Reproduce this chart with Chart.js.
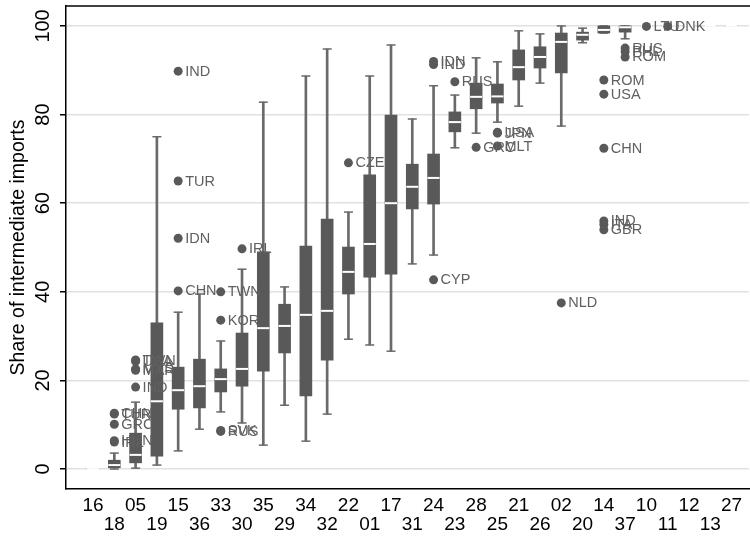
<!DOCTYPE html>
<html>
<head>
<meta charset="utf-8">
<script src="https://cdn.jsdelivr.net/npm/chart.js@4.4.1/dist/chart.umd.min.js"></script>
<style>
  html, body { margin:0; padding:0; background:#fff; }
  #wrap { width:750px; height:541px; position:relative; }
</style>
</head>
<body>
<div id="wrap"><canvas id="boxChart"></canvas></div>
<script>
// industry codes, in plotted order (sorted by median share)
const cats     = ['16','18','05','19','15','36','33','30','35','29','34','32','22','01','17','31','24','23','28','25','21','26','02','20','14','37','10','11','12','13','27'];
const whiskLo  = [0, 0, 0.2, 0.9, 4.1, 9.0, 12.9, 10.4, 5.4, 14.4, 6.3, 12.4, 29.3, 28.0, 26.6, 46.3, 48.3, 72.5, 75.8, 78.3, 81.9, 87.1, 77.4, 96.2, 98.4, 97.1, 100, 100, 100, 100, 100];
const boxQ1    = [0, 0.3, 1.4, 2.9, 13.5, 13.8, 17.4, 18.7, 22.1, 26.2, 16.5, 24.6, 39.5, 43.3, 44.0, 58.7, 59.8, 76.1, 81.3, 82.6, 87.8, 90.5, 89.4, 96.8, 98.4, 98.6, 100, 100, 100, 100, 100];
const boxMed   = [0, 0.9, 3.2, 15.3, 17.8, 18.7, 20.3, 22.6, 31.8, 32.3, 34.8, 35.7, 44.5, 50.8, 60.0, 63.7, 65.7, 78.3, 84.0, 84.1, 90.7, 93.0, 96.4, 98.0, 99.1, 99.7, 100, 100, 100, 100, 100];
const boxQ3    = [0, 2.0, 8.1, 33.0, 23.0, 24.8, 22.6, 30.7, 49.0, 37.2, 50.3, 56.4, 50.1, 66.4, 79.9, 68.8, 71.1, 80.6, 87.1, 86.9, 94.6, 95.3, 98.4, 98.6, 100, 100, 100, 100, 100, 100, 100];
const whiskHi  = [0, 3.6, 15.1, 75.0, 35.4, 39.5, 28.9, 45.1, 82.8, 41.1, 88.7, 94.8, 58.0, 88.7, 95.7, 79.0, 86.5, 84.4, 92.8, 91.9, 98.9, 98.2, 100, 99.5, 100, 100, 100, 100, 100, 100, 100];

// outside values: industry, share, country
const outCat = ['18','18','18','18','18','05','05','05','05','05','15','15','15','15','33','33','33','33','30','22','24','24','24','23','28','25','25','25','02','14','14','14','14','14','14','37','37','37','10','11'];
const outVal = [12.6, 12.4, 10.1, 6.4, 6.1, 24.6, 24.3, 22.6, 22.3, 18.5, 89.8, 65.0, 52.1, 40.2, 40.0, 33.6, 8.7, 8.5, 49.7, 69.1, 92.0, 91.3, 42.7, 87.4, 72.6, 76.0, 75.8, 72.9, 37.5, 87.8, 84.6, 72.4, 56.0, 55.2, 54.0, 95.0, 94.2, 93.0, 99.9, 99.9];
const outLab = ['CHN','TUR','GRC','HUN','IRL','TWN','USA','MYS','MAR','IND','IND','TUR','IDN','CHN','TWN','KOR','SVK','RUS','IRL','CZE','IDN','IND','CYP','RUS','GRC','USA','JPN','MLT','NLD','ROM','USA','CHN','IND','ITA','GBR','RUS','PHL','ROM','LTU','DNK'];

const yTicks = [0, 20, 40, 60, 80, 100];

const FONT = "'Liberation Sans', Arial, sans-serif";
const BOX = '#595959';
const WHISK = '#6a6a6a';

const idx = c => cats.indexOf(c);

const whiskers = cats.map((c, i) => ({ x: i, y: [whiskLo[i], whiskHi[i]] }));
const boxes    = cats.map((c, i) => ({ x: i, y: [boxQ1[i], boxQ3[i]] }));
const caps     = cats.flatMap((c, i) => [{ x: i, y: whiskLo[i] }, { x: i, y: whiskHi[i] }]);
const medians  = cats.map((c, i) => ({ x: i, y: boxMed[i] }));
const outliers = outCat.map((c, k) => ({ x: idx(c), y: outVal[k] }));

// country names next to outside values, axis labels (staggered x, rotated y), top frame line
const extras = {
  id: 'extras',
  afterDatasetsDraw(chart) {
    const ctx = chart.ctx;
    const meta = chart.getDatasetMeta(4);
    ctx.save();
    ctx.font = '14.5px ' + FONT;
    ctx.fillStyle = '#606060';
    ctx.textBaseline = 'middle';
    ctx.textAlign = 'left';
    meta.data.forEach((pt, k) => ctx.fillText(outLab[k], pt.x + 7, pt.y + 0.5));
    ctx.restore();
  },
  afterDraw(chart) {
    const ctx = chart.ctx;
    const { left, right, top, bottom } = chart.chartArea;
    const xs = chart.scales.x, ys = chart.scales.y;
    ctx.save();
    ctx.strokeStyle = '#000';
    ctx.lineWidth = 1.5;
    ctx.beginPath();
    ctx.moveTo(left - 0.75, top);
    ctx.lineTo(right + 1, top);
    ctx.stroke();

    ctx.fillStyle = '#000';
    ctx.font = '19px ' + FONT;
    ctx.textAlign = 'center';
    ctx.textBaseline = 'middle';
    cats.forEach((c, i) => {
      ctx.fillText(c, xs.getPixelForValue(i), bottom + (i % 2 === 0 ? 17 : 36));
    });

    ctx.font = '20px ' + FONT;
    ctx.textBaseline = 'bottom';
    yTicks.forEach(v => {
      ctx.save();
      ctx.translate(53, ys.getPixelForValue(v));
      ctx.rotate(-Math.PI / 2);
      ctx.fillText(String(v), 0, 0);
      ctx.restore();
    });
    ctx.restore();
  }
};

new Chart(document.getElementById('boxChart'), {
  type: 'bar',
  data: {
    datasets: [
      { label: 'whiskers', data: whiskers, backgroundColor: WHISK, barThickness: 2, grouped: false, order: 5 },
      { label: 'caps', type: 'scatter', data: caps, pointStyle: 'line', pointRadius: 4.5, borderWidth: 1.5, borderColor: WHISK, order: 4 },
      { label: 'boxes', data: boxes, backgroundColor: BOX, barThickness: 12, grouped: false, order: 3 },
      { label: 'medians', type: 'scatter', data: medians, pointStyle: 'line', pointRadius: 6, borderWidth: 2, borderColor: '#fff', order: 2 },
      { label: 'outside', type: 'scatter', data: outliers, pointStyle: 'circle', pointRadius: 4.5, backgroundColor: BOX, borderColor: BOX, borderWidth: 0, order: 1 }
    ]
  },
  options: {
    responsive: true,
    maintainAspectRatio: false,
    animation: false,
    layout: { autoPadding: false, padding: { top: 6, right: 1, left: 0, bottom: 0 } },
    plugins: { legend: { display: false }, tooltip: { enabled: false } },
    scales: {
      x: {
        type: 'linear',
        offset: false,
        min: -1.27,
        max: 30.82,
        grid: { display: false, drawTicks: false, offset: false },
        border: { display: true, color: '#000', width: 1.5 },
        afterBuildTicks: s => { s.ticks = cats.map((c, i) => ({ value: i })); },
        afterFit: s => { s.height = 52; },
        ticks: { display: false }
      },
      y: {
        min: -4.5,
        max: 104.5,
        afterBuildTicks: s => { s.ticks = yTicks.map(v => ({ value: v })); },
        afterFit: s => { s.width = 66; },
        grid: { color: '#e1e1e1', lineWidth: 1.5, tickColor: '#000', tickLength: 6, drawTicks: true },
        border: { display: true, color: '#000', width: 1.5 },
        ticks: { display: false },
        title: { display: true, text: 'Share of intermediate imports', color: '#000', font: { family: FONT, size: 19.5 }, padding: { top: 7, bottom: 0 } }
      }
    }
  },
  plugins: [extras]
});
</script>
</body>
</html>
